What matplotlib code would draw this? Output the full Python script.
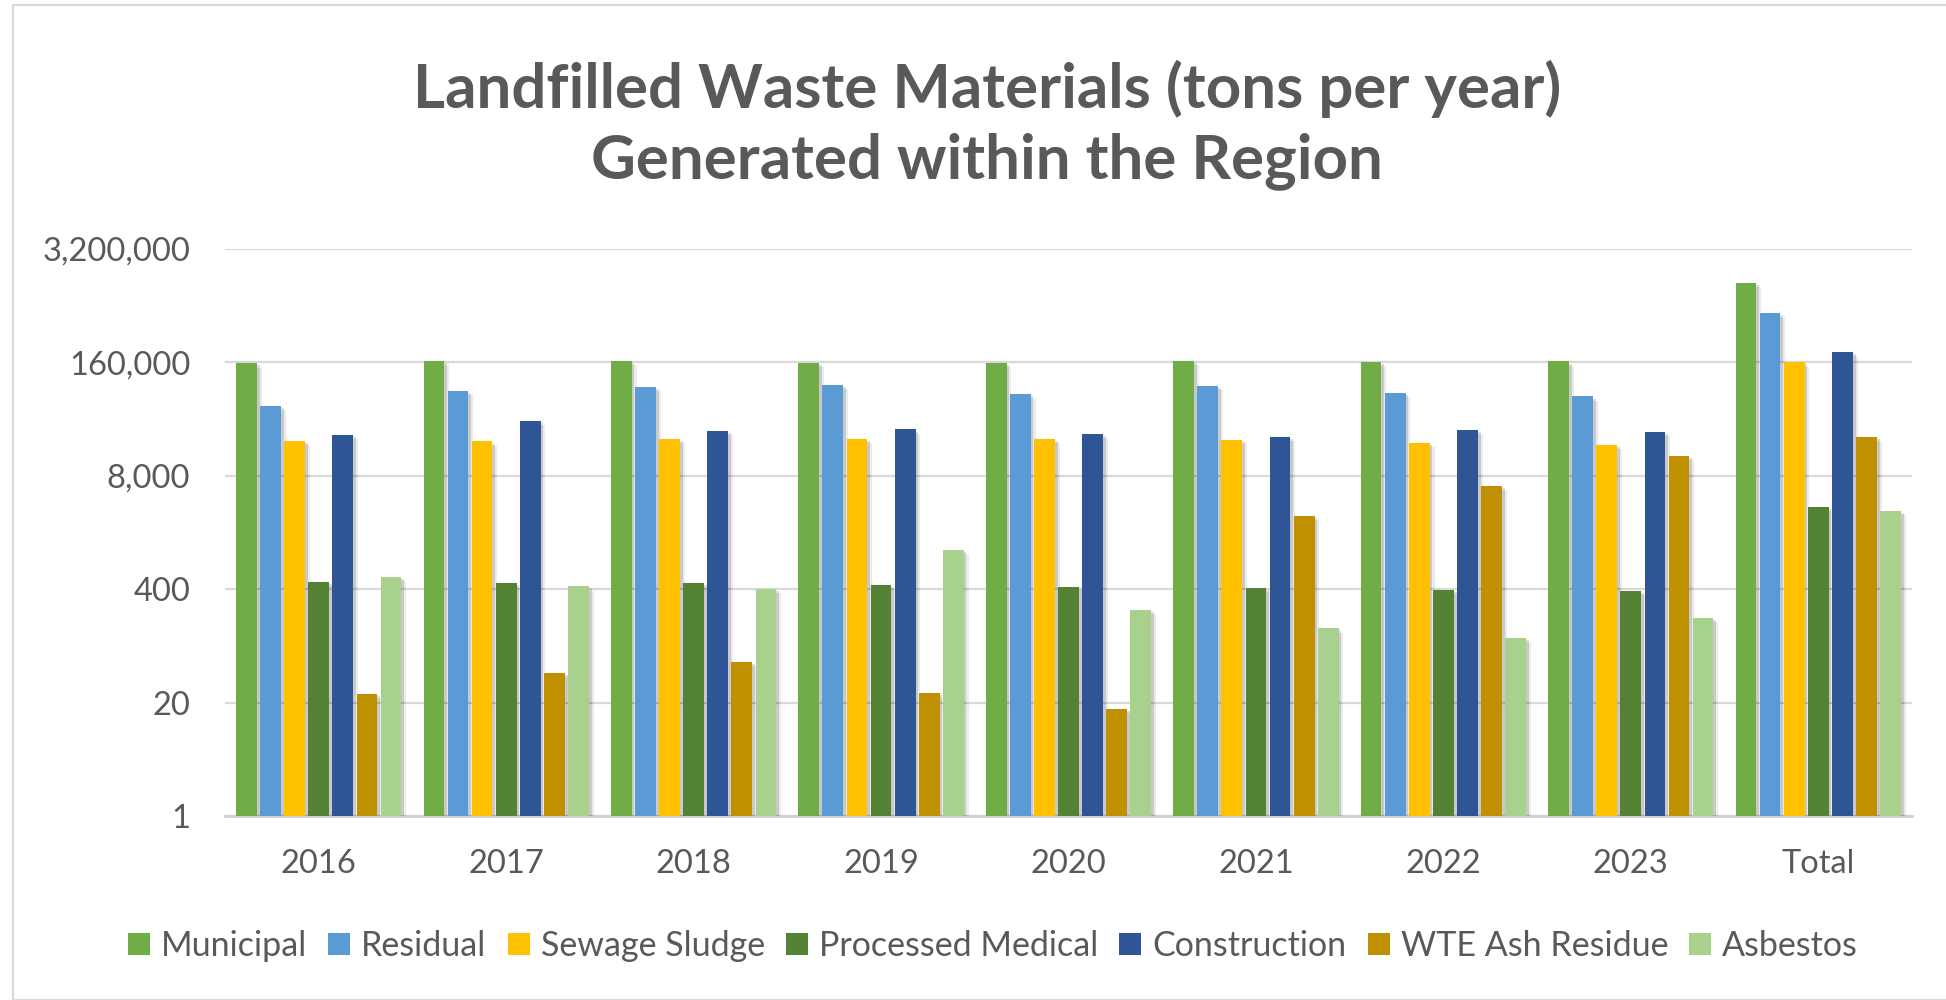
import matplotlib
matplotlib.use("Agg")
import matplotlib.pyplot as plt
import matplotlib.patheffects as pe
from matplotlib.ticker import FixedLocator, FuncFormatter
from matplotlib.patches import Rectangle, Patch
import numpy as np

categories = ["2016", "2017", "2018", "2019", "2020", "2021", "2022", "2023", "Total"]
series_names = ["Municipal", "Residual", "Sewage Sludge", "Processed Medical",
                "Construction", "WTE Ash Residue", "Asbestos"]

municipal = [156000, 165000, 167000, 158000, 157000, 167000, 161000, 164000, 1300000]
residual = [51000, 76000, 84000, 87500, 70000, 86000, 71000, 65000, 594000]
sewage_sludge = [19900, 19800, 21400, 21400, 21400, 20500, 19100, 18200, 160000]
processed_medical = [487, 468, 475, 449, 422, 410, 396, 384, 3490]
construction = [23400, 34400, 26400, 27200, 24400, 22300, 27000, 25400, 210000]
wte_ash_residue = [25, 44, 58, 26, 17, 2770, 6120, 13500, 22500]
asbestos = [551, 431, 401, 1133, 229, 142, 111, 188, 3180]

y_ticks = [1, 20, 400, 8000, 160000, 3200000]

series = [municipal, residual, sewage_sludge, processed_medical,
          construction, wte_ash_residue, asbestos]
colors = ["#70AD47", "#5B9BD5", "#FFC000", "#548235", "#2F5597", "#BF9000", "#A9D18E"]

FONT = "Lato"
TXT = "#595959"
W, H = 1946, 1000
fig = plt.figure(figsize=(W / 100, H / 100), dpi=100)
fig.patch.set_facecolor("white")

# chart border
fig.patches.append(Rectangle((13 / W, 0), 1.2, 1 - 5 / H, transform=fig.transFigure,
                             fill=False, edgecolor="#D9D9D9", linewidth=1.5))

ax = fig.add_axes([225 / W, 1 - 816 / H, (1912 - 225) / W, (816 - 249) / H])
ax.set_yscale("log", base=20)
ax.set_ylim(1, 3200000)
ax.set_xlim(-0.5, len(categories) - 0.5)

n = len(series)
slot = 0.9 / n
bw = slot * 0.86
x = np.arange(len(categories))
for i, (vals, c, name) in enumerate(zip(series, colors, series_names)):
    offs = (i - (n - 1) / 2) * slot
    bars = ax.bar(x + offs, vals, width=bw, color=c, label=name, zorder=3)
    for b in bars:
        b.set_path_effects([
            pe.SimplePatchShadow(offset=(3.5, -3), alpha=0.08, shadow_rgbFace="#000000"),
            pe.SimplePatchShadow(offset=(2, -1.5), alpha=0.14, shadow_rgbFace="#000000"),
            pe.Normal()])

ax.yaxis.set_major_locator(FixedLocator(y_ticks))
ax.yaxis.set_minor_locator(FixedLocator([]))
ax.yaxis.set_major_formatter(FuncFormatter(lambda v, p: f"{int(round(v)):,}"))
ax.grid(axis="y", color="#D9D9D9", linewidth=1.6, zorder=0)
ax.set_axisbelow(True)
for s in ["top", "right", "left"]:
    ax.spines[s].set_visible(False)
ax.spines["bottom"].set_color("#D0D0D0")
ax.spines["bottom"].set_linewidth(2)
ax.set_xticks(x)
ax.set_xticklabels(categories)
ax.tick_params(axis="both", length=0, labelsize=23.5, labelcolor=TXT)
ax.tick_params(axis="y", pad=25)
ax.tick_params(axis="x", pad=24)
for lab in ax.get_xticklabels() + ax.get_yticklabels():
    lab.set_fontfamily(FONT)

t1 = fig.text(987 / W, 1 - 89 / H, "Landfilled Waste Materials (tons per year)",
              ha="center", va="center", fontsize=36, fontweight="bold", color=TXT, family=FONT)
t2 = fig.text(987 / W, 1 - 161 / H, "Generated within the Region",
              ha="center", va="center", fontsize=36, fontweight="bold", color=TXT, family=FONT)
# fit title width to ~1147 px
fig.canvas.draw()
r = fig.canvas.get_renderer()
wpx = t1.get_window_extent(r).width
fs = 36 * 1147 / wpx
t1.set_fontsize(fs)
t2.set_fontsize(fs)

handles = [Patch(facecolor=c, edgecolor="none") for c in colors]
leg = fig.legend(handles, series_names, loc="center", bbox_to_anchor=(993 / W, 1 - 946 / H),
                 ncol=7, frameon=False, handlelength=0.65, handleheight=0.65,
                 handletextpad=0.32, columnspacing=0.62, prop={"family": FONT, "size": 24.5})
for t in leg.get_texts():
    t.set_color(TXT)

fig.savefig("out.png", dpi=100, facecolor="white")
